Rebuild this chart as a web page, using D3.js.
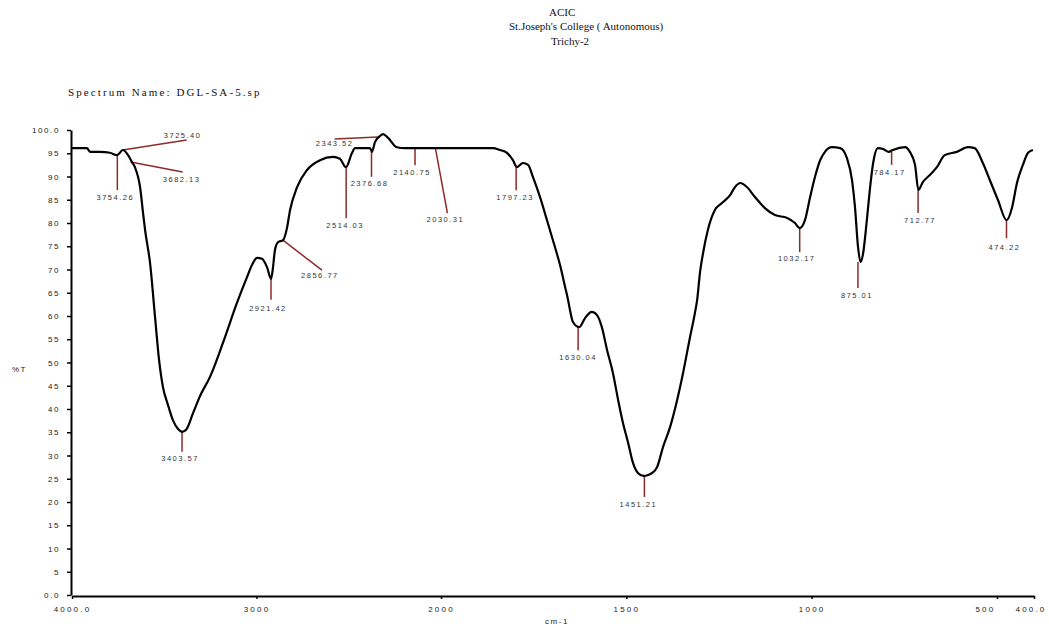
<!DOCTYPE html>
<html>
<head>
<meta charset="utf-8">
<script src="https://cdn.jsdelivr.net/npm/d3@7/dist/d3.min.js"></script>
<style>
  html, body { margin: 0; padding: 0; background: #ffffff; }
  svg { display: block; }
</style>
</head>
<body>
<svg id="chart" width="1049" height="627"></svg>
<script>
// ---------------- DATA ----------------
const titleLines = ["ACIC", "St.Joseph's College ( Autonomous)", "Trichy-2"];
const spectrumName = "Spectrum Name: DGL-SA-5.sp";
const yLabel = "%T";
const xLabel = "cm-1";

const xTickValues = [4000, 3000, 2000, 1500, 1000, 500, 400];
const xTickLabels = ["4000.0", "3000", "2000", "1500", "1000", "500", "400.0"];
const yTickValues = [0,5,10,15,20,25,30,35,40,45,50,55,60,65,70,75,80,85,90,95,100];
const yTickLabels = ["0.0","5","10","15","20","25","30","35","40","45","50","55","60","65","70","75","80","85","90","95","100.0"];

// spectrum trace: wavenumber (cm-1) and transmittance (%T)
const wavenumber = [4000,3919,3902,3848,3794,3756,3724,3696,3675,3659,3631,3615,3604,3577,3550,3528,3507,3480,3453,3425,3404,3382,3344,3306,3252,3182,3106,3051,3024,2997,2970,2943,2921,2911,2900,2883,2856,2835,2818,2780,2726,2656,2585,2548,2515,2482,2466,2385,2374,2358,2331,2314,2287,2239,2195,2141,2033,2000,
  1860,1841,1822,1806,1795,1779,1765,1752,1733,1714,1698,1679,1665,1657,1652,1644,1627,1611,1593,1579,1566,1552,1536,1522,1509,1495,1482,1468,1453,1441,1431,1417,1401,1382,1363,1347,1328,1315,1309,
  1301,1293,1280,1261,1242,1220,1207,1193,1174,1153,1126,1099,1066,1045,1032,1018,1004,991,977,964,945,923,905,891,883,875,868,861,851,843,834,821,807,792,781,748,735,721,712,700,681,662,641,608,578,560,538,519,497,474,459,446,430,416,403];
const transmittance = [96.1,96.1,95.3,95.3,95.1,94.6,95.7,94.6,93.1,92.0,87.7,82.2,78.5,71.4,59.8,50.5,44.7,40.9,37.6,35.7,35.1,35.5,39.1,42.8,46.9,54.2,62.8,68.4,71.0,72.5,72.3,70.5,68.0,70.3,74.2,75.9,76.3,78.9,82.8,87.7,91.4,93.5,94.2,93.8,92.0,95.1,96.1,96.1,95.3,97.4,98.7,99.1,98.3,96.3,96.1,96.1,96.1,96.1,
  96.1,95.7,95.1,93.5,92.0,92.9,92.5,89.9,85.6,80.6,76.3,71.0,66.2,63.4,61.3,58.7,57.6,59.6,60.9,60.2,57.6,52.7,47.7,41.9,37.0,32.7,28.4,26.2,25.6,25.8,26.2,27.5,31.8,36.1,41.9,47.7,55.5,60.6,63.4,
  69.5,73.5,78.5,82.8,84.3,86.0,87.7,88.6,87.7,85.6,83.2,81.7,81.1,80.0,78.9,80.6,85.6,89.9,93.5,95.3,96.3,96.1,94.0,89.2,83.4,75.0,71.6,73.5,80.6,87.1,92.9,96.1,95.9,95.3,95.7,96.3,95.3,92.5,87.1,88.8,90.3,92.0,94.6,95.3,96.3,96.1,92.9,89.2,84.9,80.6,83.4,88.6,92.5,95.1,95.7];

// annotated peaks
const peakLabels = ["3754.26","3725.40","3682.13","3403.57","2921.42","2856.77","2514.03","2376.68","2343.52","2140.75","2030.31","1797.23","1630.04","1451.21","1032.17","875.01","784.17","712.77","474.22"];
const peakWavenumber = [3754.26,3725.40,3682.13,3403.57,2921.42,2856.77,2514.03,2376.68,2343.52,2140.75,2030.31,1797.23,1630.04,1451.21,1032.17,875.01,784.17,712.77,474.22];
const peakT = [94.6,95.7,93.1,35.1,68.0,76.3,92.0,95.3,98.5,96.1,96.1,92.0,57.6,25.6,78.9,71.6,95.3,87.1,80.6];

// ---------------- LAYOUT (pixel offsets for annotation leaders) ----------------
// [lineDx, lineDy, textDx, textDy]
const peakLayout = [
  [0,35,-2,10],[64,-10,-4,-2],[52,10,-1,10],[0,20,-2,9],[0,21,-3,11],[39,30,-2,8],
  [0,51,-1,10],[0,25,-2,9],[-43,2,0,7],[0,17,-3,10],[12,65,-2,9],[0,23,-1,10],
  [0,23,0,10],[0,21,-6,10],[0,24,-3,9],[0,26,-1,10],[0,13,-2,10],[0,23,2,10],[0,18,-2,12]
];

const svg = d3.select("#chart");
svg.append("rect").attr("width",1049).attr("height",627).attr("fill","#ffffff");

const x = d3.scaleLinear().domain([4000, 2000, 400]).range([72, 441, 1034]);
const y = d3.scaleLinear().domain([0, 100]).range([595, 130]);

// titles
const serif = "'Liberation Serif', 'DejaVu Serif', serif";
const tX = [549, 509, 551], tY = [16, 30, 45];
titleLines.forEach((t,i) => {
  svg.append("text").attr("x", tX[i]).attr("y", tY[i])
    .attr("font-family", serif).attr("font-size", 11).attr("fill","#111")
    .text(t);
});
svg.append("text").attr("x", 68).attr("y", 96)
  .attr("font-family", serif).attr("font-size", 11).attr("letter-spacing", 2.1).attr("fill","#111")
  .text(spectrumName);

// axes
const yAxis = d3.axisLeft(y).tickValues(yTickValues)
  .tickFormat((d,i) => yTickLabels[i]).tickSize(4).tickSizeOuter(0).tickPadding(7);
const gy = svg.append("g").attr("transform","translate(71,0)").call(yAxis);
gy.select(".domain").attr("stroke","#000").attr("stroke-width",2);
gy.selectAll(".tick line").attr("stroke","#000").attr("stroke-width",1.5);
gy.selectAll(".tick text").attr("font-family","'Liberation Sans', Arial, sans-serif")
  .attr("font-size",8).attr("letter-spacing",1.6).attr("fill","#222");

const xAxis = d3.axisBottom(x).tickValues(xTickValues)
  .tickFormat((d,i) => xTickLabels[i]).tickSize(3).tickSizeOuter(0).tickPadding(7);
const gx = svg.append("g").attr("transform","translate(0,596)").call(xAxis);
gx.select(".domain").attr("stroke","#000").attr("stroke-width",2);
gx.selectAll(".tick line").attr("stroke","#000").attr("stroke-width",1.5);
gx.selectAll(".tick text").attr("font-family","'Liberation Sans', Arial, sans-serif")
  .attr("font-size",8).attr("letter-spacing",2.2).attr("fill","#222")
  .attr("dx", (d) => d === 500 ? -12 : 0)
  .attr("text-anchor", (d) => d === 400 ? "start" : "middle")
  .attr("x", (d) => d === 400 ? -19 : 0);

svg.append("text").attr("x", 12).attr("y", 372)
  .attr("font-family","'Liberation Sans', Arial, sans-serif").attr("font-size",8)
  .attr("letter-spacing",1.5).attr("fill","#222").text(yLabel);
svg.append("text").attr("x", 557).attr("y", 624).attr("text-anchor","middle")
  .attr("font-family","'Liberation Sans', Arial, sans-serif").attr("font-size",8)
  .attr("letter-spacing",1.5).attr("fill","#222").text(xLabel);

// peak leaders
const leaderColor = "#8e2a2a";
const gp = svg.append("g");
peakLabels.forEach((lab,i) => {
  const ax = x(peakWavenumber[i]), ay = y(peakT[i]);
  const [ldx, ldy, tdx, tdy] = peakLayout[i];
  gp.append("line").attr("x1", ax).attr("y1", ay).attr("x2", ax+ldx).attr("y2", ay+ldy)
    .attr("stroke", leaderColor).attr("stroke-width", 1.5);
  gp.append("text").attr("x", ax+ldx+tdx).attr("y", ay+ldy+tdy).attr("text-anchor","middle")
    .attr("font-family","'Liberation Sans', Arial, sans-serif").attr("font-size",7.5)
    .attr("letter-spacing",1.5).attr("fill","#333").text(lab);
});

// spectrum line
const pts = wavenumber.map((w,i) => [x(w), y(transmittance[i])]);
svg.append("path").datum(pts)
  .attr("d", d3.line().curve(d3.curveMonotoneX))
  .attr("fill","none").attr("stroke","#000").attr("stroke-width",2.2)
  .attr("stroke-linejoin","round");
</script>
</body>
</html>
